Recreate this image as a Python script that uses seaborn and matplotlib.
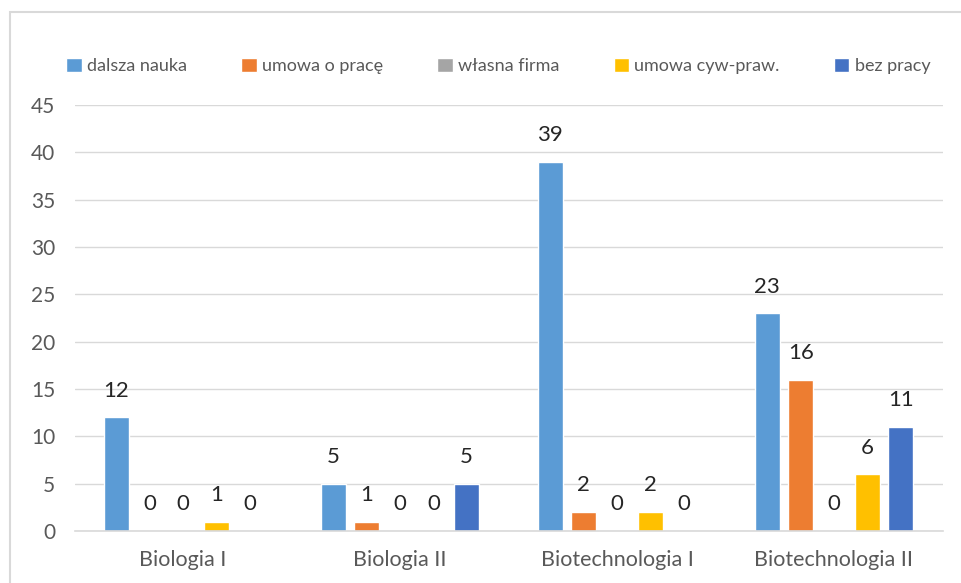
import pandas as pd
import matplotlib.pyplot as plt
import seaborn as sns
from matplotlib.patches import Rectangle

# data
kierunki = ["Biologia I", "Biologia II", "Biotechnologia I", "Biotechnologia II"]
status = ["dalsza nauka", "umowa o pracę", "własna firma", "umowa cyw-praw.", "bez pracy"]

dalsza_nauka = [12, 5, 39, 23]
umowa_o_prace = [0, 1, 2, 16]
wlasna_firma = [0, 0, 0, 0]
umowa_cyw = [1, 0, 2, 6]
bez_pracy = [0, 5, 0, 11]

colors = ["#5B9BD5", "#ED7D31", "#A5A5A5", "#FFC000", "#4472C4"]

series = [dalsza_nauka, umowa_o_prace, wlasna_firma, umowa_cyw, bez_pracy]
rows = []
for name, vals in zip(status, series):
    for k, v in zip(kierunki, vals):
        rows.append({"kierunek": k, "status": name, "liczba": v})
df = pd.DataFrame(rows)

sns.set_theme(style="white")
plt.rcParams["font.family"] = ["Lato", "DejaVu Sans"]

fig = plt.figure(figsize=(9.62, 5.83), dpi=100)
ax = fig.add_axes([74.5 / 962, 1 - 531 / 583, (942.5 - 74.5) / 962, (531 - 105) / 583])

sns.barplot(data=df, x="kierunek", y="liczba", hue="status",
            hue_order=status, order=kierunki, palette=colors,
            width=0.768, gap=0.234, saturation=1, ax=ax)

for cont in ax.containers:
    ax.bar_label(cont, padding=12, fontsize=16, color="#262626")

ax.set_ylim(0, 45)
ax.set_xlim(-0.5, 3.5)
ax.set_yticks(range(0, 46, 5))
ax.yaxis.grid(True, color="#D9D9D9", linewidth=1)
ax.set_axisbelow(True)
for s in ["top", "right", "left"]:
    ax.spines[s].set_visible(False)
ax.spines["bottom"].set_color("#D9D9D9")
ax.spines["bottom"].set_linewidth(1.2)
ax.tick_params(axis="y", length=0, pad=14, labelsize=15, labelcolor="#595959")
ax.tick_params(axis="x", length=0, pad=14, labelsize=15.5, labelcolor="#595959")
ax.set_xlabel("")
ax.set_ylabel("")

ax.legend(loc="center", bbox_to_anchor=(0.518, 1 - 66 / 583),
          bbox_transform=fig.transFigure, ncol=5, frameon=False,
          fontsize=13, handlelength=0.85, handleheight=0.85,
          handletextpad=0.3, columnspacing=3.0, labelcolor="#595959")

# chart border (only left and top edges are visible in the crop)
fig.patches.append(Rectangle((10 / 962, -0.1), 1.2, 1.1 - 12.5 / 583,
                             transform=fig.transFigure, fill=False,
                             edgecolor="#D9D9D9", linewidth=1.5))

fig.savefig("out.png", dpi=100)
